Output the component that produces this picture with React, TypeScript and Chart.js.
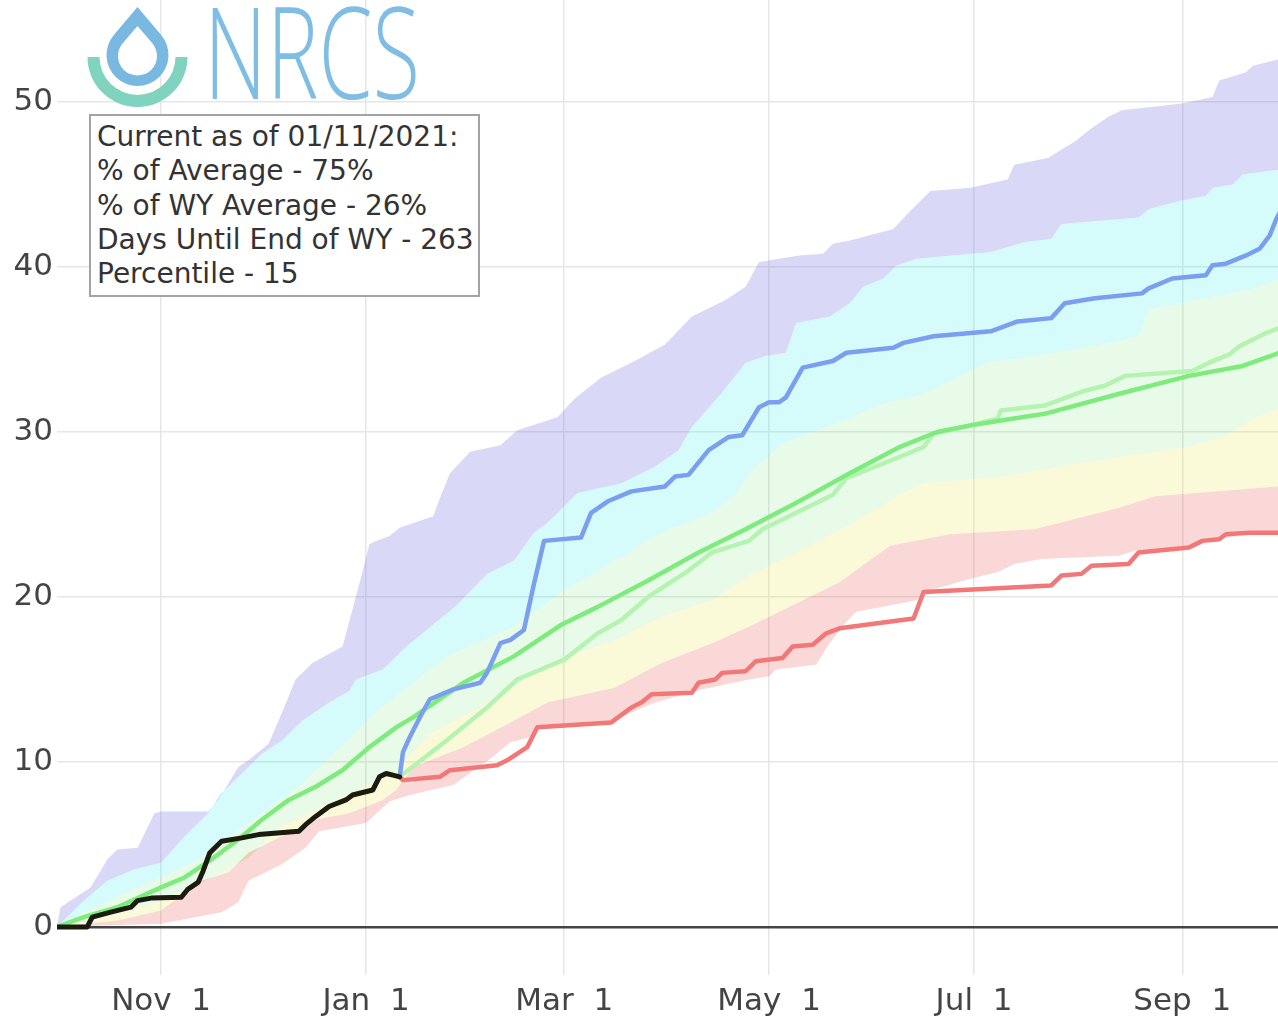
import React, { useEffect, useRef } from "react";
import { Chart, registerables } from "chart.js";

Chart.register(...registerables);

type Pt = [number, number];

// x = day of the water year (0 = Oct 1 2020), y = precipitation accumulation (in)
const tickDays = [31, 92, 151, 212, 273, 335];
const tickLabels = ["Nov  1", "Jan  1", "Mar  1", "May  1", "Jul  1", "Sep  1"];
const yTicks = [0, 10, 20, 30, 40, 50];

const maxPrecip: Pt[] = [
  [0, 0], [1, 1.2], [10, 2.4], [15, 4.1], [18, 4.7], [24, 4.8], [29, 6.9], [31, 7.0], [45, 7.0], [48, 7.7],
  [54, 9.7], [57, 10.1], [63, 11.1], [67, 13.0], [71, 15.0], [76, 16.0], [85, 17.0], [87, 18.5], [90, 20.8],
  [93, 23.2], [95, 23.4], [99, 23.7], [102, 24.2], [112, 24.9], [114, 26.0], [117, 27.5], [123, 28.8],
  [132, 29.2], [137, 30.1], [149, 30.9], [154, 32.0], [162, 33.3], [171, 34.2], [181, 35.3], [189, 37.0],
  [199, 38.0], [205, 38.8], [209, 40.3], [221, 40.7], [228, 40.8], [231, 41.4], [236, 41.6], [249, 42.3],
  [255, 43.6], [260, 44.6], [272, 44.8], [283, 45.3], [285, 46.2], [295, 46.6], [303, 47.6], [308, 48.4],
  [313, 49.1], [317, 49.5], [335, 49.9], [344, 50.3], [346, 51.3], [354, 51.8], [356, 52.2], [364, 52.6],
];

const pct90: Pt[] = [
  [0, 0], [8, 1.6], [15, 2.8], [23, 3.5], [31, 3.9], [38, 5.5], [45, 6.9], [49, 8.1], [55, 9.3], [61, 10.5],
  [67, 11.3], [73, 12.5], [81, 13.6], [87, 14.3], [89, 15.0], [97, 15.6], [101, 16.4], [104, 17.0],
  [110, 18.0], [119, 19.5], [128, 21.4], [136, 22.2], [142, 23.9], [146, 24.5], [155, 26.3], [168, 26.9],
  [178, 27.9], [185, 28.9], [189, 30.3], [198, 32.4], [205, 34.2], [211, 34.6], [217, 34.8], [220, 36.6],
  [230, 37.0], [236, 37.8], [240, 38.8], [246, 39.3], [250, 40.1], [256, 40.5], [278, 40.9], [288, 41.5],
  [296, 41.7], [299, 42.6], [322, 43.0], [325, 43.5], [334, 44.0], [342, 44.3], [344, 44.8], [350, 45.0],
  [353, 45.6], [364, 45.9],
];

const pct70: Pt[] = [
  [0, 0], [8, 0.9], [23, 2.3], [31, 3.0], [43, 4.2], [57, 6.3], [73, 8.7], [89, 11.8], [96, 13.2],
  [106, 14.8], [116, 16.4], [136, 18.2], [151, 20.4], [166, 22.2], [180, 23.9], [195, 25.1], [202, 26.2],
  [206, 27.5], [216, 29.3], [234, 30.7], [246, 31.7], [258, 32.3], [277, 34.2], [297, 34.8], [313, 35.4],
  [322, 35.8], [325, 37.4], [334, 37.8], [356, 38.7], [364, 39.3],
];

const pct30: Pt[] = [
  [0, 0], [18, 0.8], [31, 1.6], [43, 2.7], [57, 4.2], [67, 6.1], [77, 7.1], [87, 8.1], [97, 9.0],
  [101, 9.5], [111, 11.7], [126, 13.3], [141, 15.2], [152, 16.4], [166, 17.4], [180, 18.8], [195, 19.8],
  [206, 21.3], [221, 22.8], [236, 24.4], [251, 26.2], [258, 26.9], [282, 27.3], [307, 28.2], [337, 29.1],
  [347, 29.7], [357, 30.9], [364, 31.4],
];

const pct10: Pt[] = [
  [0, 0], [18, 0.4], [31, 1.0], [43, 2.8], [51, 3.3], [57, 4.5], [67, 5.5], [77, 6.5], [87, 6.9], [97, 7.7],
  [101, 8.3], [106, 9.7], [121, 10.9], [136, 12.5], [146, 13.6], [166, 14.5], [180, 16.0], [195, 17.2],
  [206, 18.2], [221, 19.7], [233, 20.9], [248, 23.1], [266, 23.8], [291, 24.1], [316, 25.4], [327, 26.1],
  [364, 26.7],
];

const minPrecip: Pt[] = [
  [0, 0], [31, 0.2], [49, 0.9], [54, 1.5], [57, 2.8], [67, 3.8], [74, 4.8], [78, 5.8], [92, 6.3], [99, 7.6],
  [105, 8.0], [118, 8.6], [129, 10.2], [135, 11.2], [141, 11.5], [143, 12.1], [166, 12.5], [171, 13.0],
  [178, 13.6], [192, 14.4], [206, 15.0], [212, 15.2], [214, 15.6], [226, 15.9], [230, 17.2], [235, 18.5],
  [238, 19.1], [256, 19.8], [258, 20.3], [272, 21.1], [280, 21.5], [285, 22.0], [293, 22.3], [316, 22.5],
  [321, 22.8], [337, 23.0], [340, 23.3], [347, 23.6], [364, 23.9],
];

const medianPrecip: Pt[] = [
  [0, 0], [8, 0.6], [18, 1.2], [31, 2.4], [38, 3.0], [46, 4.1], [54, 5.3], [61, 6.5], [69, 7.7], [77, 8.5],
  [85, 9.5], [93, 10.9], [101, 12.1], [106, 12.7], [121, 14.8], [136, 16.4], [150, 18.3], [161, 19.4],
  [176, 21.0], [191, 22.7], [205, 24.1], [220, 25.7], [236, 27.5], [251, 29.1], [262, 30.0], [272, 30.4],
  [281, 30.7], [294, 31.1], [316, 32.3], [337, 33.4], [353, 34.0], [364, 34.8],
];

const currentWY: Pt[] = [
  [0, 0], [9, 0], [10.5, 0.6], [16, 0.9], [22, 1.2], [24, 1.6], [28, 1.75], [37, 1.8], [39, 2.3], [42, 2.7],
  [43.5, 3.4], [45.5, 4.5], [49, 5.2], [55, 5.4], [60, 5.6], [72, 5.8], [74, 6.2], [77, 6.7], [81, 7.3],
  [86, 7.7], [88, 8.0], [94, 8.3], [96, 9.1], [98, 9.3], [100, 9.2], [102, 9.1],
];

const projMax: Pt[] = [
  [102, 9.1], [103, 10.6], [105, 11.5], [108, 12.7], [111, 13.8], [118, 14.4], [126, 14.8], [128, 15.4],
  [132, 17.2], [135, 17.4], [139, 18.0], [142, 20.8], [145, 23.4], [156, 23.6], [159, 25.1], [164, 25.8],
  [171, 26.4], [181, 26.7], [184, 27.3], [188, 27.4], [194, 28.9], [200, 29.7], [204, 29.8], [209, 31.5],
  [212, 31.8], [215, 31.8], [217, 32.1], [222, 33.9], [231, 34.3], [235, 34.8], [249, 35.1], [252, 35.4],
  [261, 35.8], [278, 36.1], [286, 36.7], [296, 36.9], [300, 37.8], [309, 38.1], [323, 38.4], [325, 38.7],
  [332, 39.3], [342, 39.5], [344, 40.1], [348, 40.2], [354, 40.7], [358, 41.1], [361, 41.9], [363, 42.9],
  [364, 43.3],
];

const projMedian: Pt[] = [
  [102, 9.1], [116, 11.3], [128, 13.3], [137, 15.0], [151, 16.2], [161, 17.8], [168, 18.6], [176, 20.0],
  [188, 21.6], [195, 22.7], [206, 23.4], [210, 24.1], [221, 25.2], [231, 26.2], [235, 27.2], [251, 28.5],
  [258, 29.1], [261, 29.9], [270, 30.3], [280, 30.8], [281, 31.3], [294, 31.6], [306, 32.5], [312, 32.8],
  [318, 33.4], [338, 33.7], [343, 34.2], [349, 34.7], [352, 35.2], [360, 36.0], [364, 36.3],
];

const projMin: Pt[] = [
  [102, 9.1], [103, 8.9], [114, 9.1], [117, 9.5], [131, 9.8], [134, 10.1], [140, 10.9], [143, 12.1],
  [165, 12.4], [171, 13.3], [174, 13.6], [177, 14.1], [189, 14.2], [191, 14.8], [196, 15.0], [198, 15.4],
  [205, 15.5], [208, 16.1], [216, 16.3], [219, 17.0], [225, 17.1], [229, 17.8], [233, 18.1], [255, 18.7],
  [258, 20.3], [296, 20.7], [299, 21.3], [305, 21.4], [308, 21.9], [319, 22.0], [322, 22.7], [337, 23.0],
  [341, 23.4], [346, 23.5], [348, 23.8], [355, 23.9], [364, 23.9],
];

const infoLines = [
  "Current as of 01/11/2021:",
  "% of Average - 75%",
  "% of WY Average - 26%",
  "Days Until End of WY - 263",
  "Percentile - 15",
];

const toXY = (arr: Pt[]) => arr.map(([x, y]) => ({ x, y }));

const FONT = "'DejaVu Sans', Verdana, sans-serif";

export default function App() {
  const canvasRef = useRef<HTMLCanvasElement | null>(null);

  useEffect(() => {
    const canvas = canvasRef.current;
    if (!canvas) return;
    const line = (data: Pt[], color: string, width: number) => ({
      data: toXY(data),
      borderColor: color,
      borderWidth: width,
      borderJoinStyle: "round",
      borderCapStyle: "round",
      pointRadius: 0,
      fill: false,
      tension: 0,
    });
    const band = (data: Pt[], color: string, fillTo: number | false) => ({
      data: toXY(data),
      borderColor: "rgba(0,0,0,0)",
      borderWidth: 0,
      backgroundColor: color,
      pointRadius: 0,
      fill: fillTo,
      tension: 0,
    });
    const chart = new Chart(canvas, {
      type: "line",
      data: {
        datasets: [
          line(currentWY, "#1b1b10", 5), // 0
          line(projMax, "#7b9ff0", 4.5), // 1
          line(projMin, "#f27777", 4.5), // 2
          line(medianPrecip, "#7dec7d", 4.5), // 3
          line(projMedian, "#b4f4b0", 4.5), // 4
          band(minPrecip, "rgba(0,0,0,0)", false), // 5
          band(pct10, "rgba(228,60,60,0.2)", 5), // 6
          band(pct30, "rgba(232,232,60,0.2)", 6), // 7
          band(pct70, "rgba(100,222,100,0.15)", 7), // 8
          band(pct90, "rgba(50,235,235,0.2)", 8), // 9
          band(maxPrecip, "rgba(128,128,228,0.3)", 9), // 10
        ] as any,
      },
      options: {
        animation: false,
        responsive: true,
        maintainAspectRatio: false,
        layout: { padding: 0 },
        plugins: { legend: { display: false }, tooltip: { enabled: false } },
        scales: {
          x: {
            type: "linear",
            min: 0,
            max: 363.5,
            border: { display: false },
            grid: { color: "#e6e6e6", lineWidth: 1.5, drawTicks: false },
            ticks: {
              autoSkip: false,
              maxRotation: 0,
              padding: 8,
              color: "#444",
              font: { family: FONT, size: 31 },
              callback: (v: any) => {
                const i = tickDays.indexOf(Number(v));
                return i >= 0 ? tickLabels[i] : "";
              },
            },
            afterBuildTicks: (s: any) => {
              s.ticks = tickDays.map((v) => ({ value: v }));
            },
            afterFit: (s: any) => {
              s.height = 48;
              s.paddingLeft = 0;
              s.paddingRight = 0;
            },
          },
          y: {
            type: "linear",
            min: -2.91,
            max: 56.18,
            border: { display: false },
            grid: {
              color: (c: any) => (c.tick && c.tick.value === 0 ? "#444" : "#e6e6e6"),
              lineWidth: (c: any) => (c.tick && c.tick.value === 0 ? 2.5 : 1.5),
              drawTicks: false,
            },
            ticks: {
              padding: 4,
              color: "#444",
              font: { family: FONT, size: 31 },
            },
            afterBuildTicks: (s: any) => {
              s.ticks = yTicks.map((v) => ({ value: v }));
            },
            afterFit: (s: any) => {
              s.width = 57;
              s.paddingTop = 0;
              s.paddingBottom = 0;
            },
          },
        },
      } as any,
    });
    return () => chart.destroy();
  }, []);

  return (
    <div style={{ position: "absolute", left: 0, top: 0, width: 1278, height: 1023, background: "#fff" }}>
      <canvas ref={canvasRef} />
      <svg width={440} height={112} style={{ position: "absolute", left: 0, top: 0 }}>
        <path d="M 87.5 57 A 50 50 0 0 0 187.5 57 L 175.5 57 A 38 38 0 0 1 99.5 57 Z" fill="#7fd3bf" />
        <path d="M 137.5 7 L 113.83 34.98 A 31 31 0 1 0 161.17 34.98 Z" fill="#79b8e1" />
        <path d="M 137.5 26 L 122.68 43.32 A 19.5 19.5 0 1 0 152.32 43.32 Z" fill="#fff" />
        <text
          x={204}
          y={99}
          textLength={216}
          lengthAdjust="spacingAndGlyphs"
          fill="#7fbde5"
          style={{ fontFamily: "'Open Sans', 'DejaVu Sans', sans-serif", fontWeight: 300, fontSize: 127 }}
        >
          NRCS
        </text>
      </svg>
      <div
        style={{
          position: "absolute",
          left: 89,
          top: 114,
          width: 391,
          height: 183,
          boxSizing: "border-box",
          border: "2px solid #a3a3a3",
          background: "#fff",
          padding: "4px 0 0 6px",
          fontFamily: FONT,
          fontSize: 28,
          lineHeight: "34.25px",
          color: "#333",
          whiteSpace: "pre",
        }}
      >
        {infoLines.map((t) => (
          <div key={t}>{t}</div>
        ))}
      </div>
    </div>
  );
}
